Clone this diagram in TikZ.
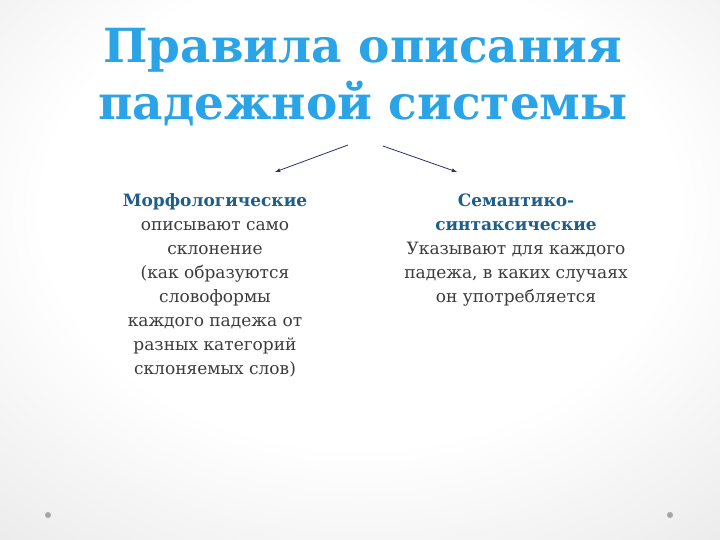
\documentclass[tikz,border=0pt]{standalone}
\usepackage{fontspec}
\setmainfont{DejaVu Serif}
\usetikzlibrary{arrows,positioning}
\definecolor{titleblue}{HTML}{2AA4E6}
\definecolor{headblue}{HTML}{1F5E8A}
\definecolor{bodygray}{HTML}{3C3C3C}
\definecolor{arrownavy}{HTML}{2E2E6E}
\pgfdeclareradialshading{slidebg}{\pgfpoint{0bp}{8bp}}{color(0bp)=(white); color(22bp)=(white); color(50bp)=(black!13); color(75bp)=(black!22)}
\begin{document}
\begin{tikzpicture}[x=1pt,y=-1pt,
  txt/.style={align=center,text=bodygray,font=\fontsize{17}{24}\selectfont,anchor=north},
  hd/.style={text=headblue,font=\bfseries}]
\shade[shading=slidebg] (0,0) rectangle (720,540);
\useasboundingbox (0,0) rectangle (720,540);

\node (title) at (363,77) [align=center,text=titleblue,font=\fontsize{47}{57}\bfseries\selectfont] {Правила описания\\падежной системы};

\node (morph) at (215,190) [txt] {{\color{headblue}\bfseries Морфологические}\\описывают само\\склонение\\(как образуются\\словоформы\\каждого падежа от\\разных категорий\\склоняемых слов)};
\node (sem) at (516,190) [txt] {{\color{headblue}\bfseries Семантико-}\\{\color{headblue}\bfseries синтаксические}\\Указывают для каждого\\падежа, в каких случаях\\он употребляется};

\coordinate (ls) at (348,145);
\coordinate (le) at (275,172);
\coordinate (rs) at (383,146);
\coordinate (re) at (457,172);
\draw[arrownavy,thick,-latex] (ls)--(le);
\draw[arrownavy,thick,-latex] (rs)--(re);

\fill[black!35] (48,515) circle (3);
\fill[black!35] (670,515) circle (3);
\end{tikzpicture}
\end{document}
